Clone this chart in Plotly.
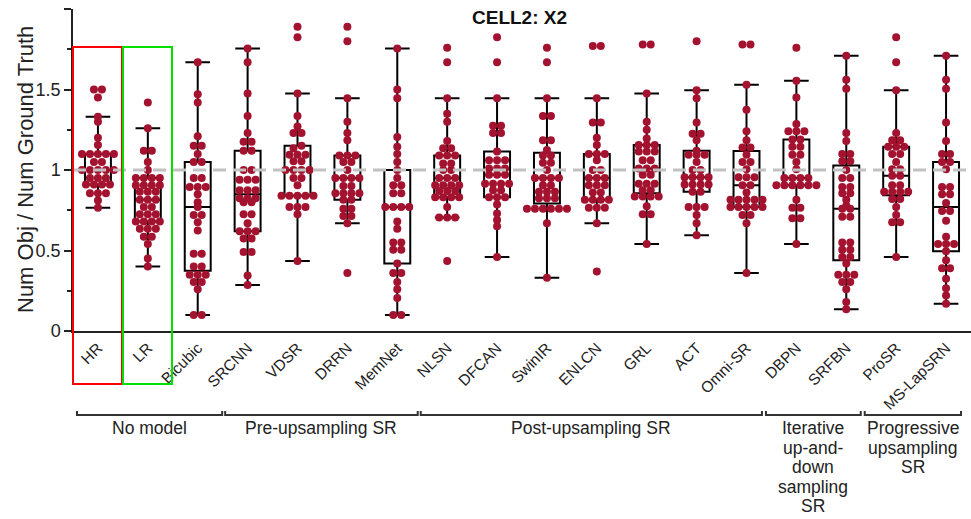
import plotly.graph_objects as go

categories = ["HR", "LR", "Bicubic", "SRCNN", "VDSR", "DRRN", "MemNet", "NLSN", "DFCAN",
              "SwinIR", "ENLCN", "GRL", "ACT", "Omni-SR", "DBPN", "SRFBN", "ProSR", "MS-LapSRN"]

def rep(v, n):
    return [v] * n

HR = [1.50, 1.50, 1.45, 1.33, 1.30, 1.20, 1.155] + rep(1.10, 5) + rep(1.05, 2) + rep(1.0, 5) + \
     rep(0.95, 3) + rep(0.91, 4) + rep(0.855, 3) + [0.81, 0.765]
LR = [1.42, 1.26, 1.12, 1.12, 1.05, 1.0] + rep(0.95, 4) + rep(0.905, 4) + rep(0.865, 3) + rep(0.815, 3) + \
     rep(0.77, 2) + rep(0.725, 3) + rep(0.68, 4) + rep(0.635, 3) + rep(0.585, 2) + [0.54, 0.45, 0.40]
Bicubic = [1.67, 1.47, 1.42, 1.21, 1.15, 1.15, 1.10, 1.05, 1.05, 0.95, 0.95] + rep(0.895, 3) + \
          [0.85, 0.80, 0.77, 0.72, 0.72, 0.675, 0.625, 0.48, 0.48, 0.40, 0.40] + rep(0.35, 3) + \
          [0.305, 0.305, 0.26, 0.10, 0.10]
SRCNN = [1.755, 1.67, 1.475, 1.335, 1.23, 1.175, 1.175, 1.12, 1.12, 1.0, 1.0] + rep(0.94, 3) + \
        rep(0.875, 3) + rep(0.825, 3) + [0.80, 0.80, 0.725, 0.725, 0.67] + rep(0.62, 3) + \
        [0.575, 0.575, 0.49, 0.49, 0.345, 0.285]
VDSR = [1.89, 1.825, 1.475, 1.335, 1.27, 1.23, 1.23, 1.15, 1.135] + rep(1.095, 3) + [1.055, 1.055] + \
       rep(1.0, 4) + [0.95, 0.95, 0.905] + rep(0.84, 5) + rep(0.77, 3) + [0.725, 0.435]
DRRN = [1.89, 1.80, 1.445, 1.30, 1.23, 1.185] + rep(1.09, 3) + [1.05, 1.05, 1.0] + rep(0.95, 4) + \
       [0.90, 0.90] + rep(0.855, 4) + [0.815, 0.815, 0.76, 0.76, 0.715, 0.715, 0.67, 0.36]
MemNet = [1.755, 1.50, 1.445, 1.205, 1.145, 1.10, 1.05, 1.0, 0.95, 0.905, 0.905, 0.855, 0.855] + \
         rep(0.77, 4) + [0.68, 0.635, 0.55, 0.55, 0.505, 0.505, 0.42, 0.36, 0.36, 0.305, 0.26, 0.205, 0.10, 0.10]
NLSN = [1.76, 1.67, 1.445, 1.35, 1.30, 1.18, 1.135, 1.135] + rep(1.09, 3) + [1.04, 1.04, 1.0, 1.0] + \
       rep(0.95, 3) + rep(0.905, 4) + rep(0.87, 3) + rep(0.83, 4) + [0.77] + rep(0.705, 3) + [0.435]
DFCAN = [1.825, 1.67, 1.445, 1.275, 1.275, 1.23, 1.23, 1.115] + rep(1.06, 3) + rep(1.01, 3) + \
        rep(0.97, 3) + rep(0.915, 4) + [0.875, 0.875] + rep(0.83, 3) + [0.785, 0.73, 0.69, 0.65, 0.46]
SwinIR = [1.76, 1.67, 1.445, 1.335, 1.335, 1.185, 1.185, 1.125, 1.09, 1.09, 1.045, 1.045, 1.0] + \
         rep(0.95, 4) + rep(0.905, 2) + rep(0.865, 3) + rep(0.825, 3) + rep(0.76, 6) + [0.67, 0.33]
ENLCN = [1.77, 1.77, 1.445, 1.295, 1.295, 1.20, 1.155] + rep(1.10, 3) + [1.06, 1.0, 1.0] + \
        rep(0.95, 3) + rep(0.905, 3) + [0.86, 0.86] + rep(0.815, 4) + rep(0.765, 3) + [0.67, 0.37]
GRL = [1.78, 1.78, 1.475, 1.30, 1.25, 1.195] + rep(1.155, 3) + rep(1.115, 3) + [1.06, 1.06] + \
      rep(1.01, 3) + [0.97, 0.97] + rep(0.915, 3) + rep(0.875, 2) + rep(0.835, 4) + [0.775, 0.725, 0.725, 0.54]
ACT = [1.80, 1.495, 1.445, 1.295, 1.225, 1.225, 1.185, 1.12] + rep(1.095, 3) + [1.05, 1.0, 1.0] + \
      rep(0.955, 4) + rep(0.91, 4) + [0.865, 0.865] + rep(0.77, 3) + [0.72, 0.67, 0.595]
OmniSR = [1.78, 1.78, 1.53, 1.375, 1.24, 1.185, 1.14, 1.14, 1.095, 1.05, 1.05, 1.005] + rep(0.955, 3) + \
         [0.905, 0.905, 0.86] + rep(0.815, 5) + rep(0.77, 5) + [0.72, 0.72, 0.67, 0.36]
DBPN = [1.76, 1.555, 1.45, 1.285] + rep(1.24, 3) + [1.19, 1.19, 1.145, 1.145, 1.095, 1.095, 1.05, 1.005] + \
       rep(0.95, 4) + rep(0.905, 6) + [0.815, 0.765, 0.765, 0.70, 0.70, 0.54]
SRFBN = [1.71, 1.56, 1.505, 1.23, 1.18, 1.10, 1.10, 1.055, 1.055, 1.0, 0.95, 0.95, 0.895, 0.895,
         0.855, 0.855, 0.815, 0.78, 0.76, 0.76, 0.71, 0.71, 0.55, 0.55, 0.505, 0.505, 0.46, 0.46, 0.42] + \
        rep(0.35, 3) + [0.305, 0.305, 0.26, 0.18, 0.135]
ProSR = [1.825, 1.67, 1.495, 1.23, 1.185, 1.185] + rep(1.145, 3) + [1.10, 1.10, 1.05, 1.005, 1.005,
         0.965, 0.965, 0.905, 0.905] + rep(0.865, 4) + [0.82, 0.82, 0.77, 0.72, 0.675, 0.675, 0.46]
MSLapSRN = [1.71, 1.56, 1.505, 1.295, 1.18, 1.10, 1.10, 1.05, 1.05, 1.005, 0.895, 0.895, 0.85, 0.85,
            0.795, 0.745, 0.745, 0.685, 0.585] + rep(0.54, 3) + \
           [0.495, 0.44, 0.39, 0.39, 0.325, 0.265, 0.22, 0.17]

series = [HR, LR, Bicubic, SRCNN, VDSR, DRRN, MemNet, NLSN, DFCAN, SwinIR, ENLCN, GRL,
          ACT, OmniSR, DBPN, SRFBN, ProSR, MSLapSRN]

groups = ["No model", "Pre-upsampling SR", "Post-upsampling SR",
          "Iterative<br>up-and-<br>down<br>sampling<br>SR", "Progressive<br>upsampling<br>SR"]
group_spans = [(-0.42, 2.49), (2.55, 6.41), (6.47, 13.31), (13.39, 15.29), (15.37, 17.3)]

FONT = "Liberation Sans, Arial, sans-serif"
DOT = "#A3122F"

# beeswarm layout: equal-valued points in a row, centred
dx = 8.0 / 49.9
bx, by = [], []
px, py = [], []
for i, vals in enumerate(series):
    for v in vals:
        bx.append(i)
        by.append(v)
    sv = sorted(vals)
    rows = []
    for v in sv:
        if rows and abs(v - rows[-1][0]) < 0.02:
            rows[-1].append(v)
        else:
            rows.append([v])
    for r in rows:
        n = len(r)
        for k, v in enumerate(r):
            px.append(i + (k - (n - 1) / 2) * dx)
            py.append(v)

fig = go.Figure()
fig.add_trace(go.Box(
    x=bx, y=by, width=0.52, whiskerwidth=0.95,
    line=dict(color="black", width=2), fillcolor="rgba(0,0,0,0)",
    boxpoints="outliers", marker=dict(opacity=0, size=1),
    quartilemethod="exclusive", showlegend=False, hoverinfo="skip"))
fig.add_trace(go.Scatter(
    x=px, y=py, mode="markers", marker=dict(color=DOT, size=8, line=dict(width=0)),
    showlegend=False, cliponaxis=False))

L, T, W, H = 73, 9, 898, 322
def pxp(x):
    return (x - L) / W
def pyp(y):
    return (T + H - y) / H

shapes = [
    dict(type="line", xref="paper", yref="y", x0=0, x1=1, y0=1, y1=1,
         line=dict(color="#C2C2C2", width=3, dash="13px,7px"), layer="above"),
    dict(type="rect", xref="paper", yref="paper", x0=pxp(73), x1=pxp(122), y0=pyp(384), y1=pyp(47),
         line=dict(color="#FF0000", width=2)),
    dict(type="rect", xref="paper", yref="paper", x0=pxp(123), x1=pxp(172), y0=pyp(384), y1=pyp(47),
         line=dict(color="#00E000", width=2)),
]
annotations = []
yb, yh = pyp(415), pyp(411)
for name, (a, b) in zip(groups, group_spans):
    xa, xb = (a + 0.5) / 18, (b + 0.5) / 18
    shapes.append(dict(type="path", xref="paper", yref="paper",
                       path=f"M {xa},{yh} L {xa},{yb} L {xb},{yb} L {xb},{yh}",
                       line=dict(color="#333333", width=2)))
    for j, line in enumerate(name.split("<br>")):
        annotations.append(dict(text=line, xref="paper", yref="paper", x=(xa + xb) / 2,
                                y=pyp(428 + 19.5 * j), xanchor="center", yanchor="middle",
                                showarrow=False, align="center",
                                font=dict(family=FONT, size=17.5, color="#222222")))

annotations.append(dict(text="<b>CELL2: X2</b>", xref="paper", yref="paper", x=pxp(519), y=pyp(17),
                        xanchor="center", yanchor="middle", showarrow=False,
                        font=dict(family=FONT, size=19, color="#111111")))
annotations.append(dict(text="Num Obj / Num Ground Truth", xref="paper", yref="paper",
                        x=pxp(25), y=pyp(170), textangle=-90, xanchor="center", yanchor="middle",
                        showarrow=False, font=dict(family=FONT, size=22, color="#222222")))

fig.update_layout(
    width=971, height=519, margin=dict(l=L, r=0, t=T, b=519 - T - H, autoexpand=False),
    paper_bgcolor="white", plot_bgcolor="white", font=dict(family=FONT),
    shapes=shapes, annotations=annotations, showlegend=False,
    xaxis=dict(range=[-0.5, 17.5], tickvals=list(range(18)), ticktext=categories, tickangle=-45,
               showgrid=False, zeroline=False, showline=True, linecolor="#222222", linewidth=2,
               ticks="", tickfont=dict(family=FONT, size=15.5, color="#222222")),
    yaxis=dict(range=[0, 2], tickvals=[0, 0.5, 1, 1.5, 2], ticktext=["0", "0.5", "1", "1.5", "2"],
               showgrid=False, zeroline=False, showline=True, linecolor="#222222", linewidth=1.5,
               ticks="outside", ticklen=7, tickwidth=1.5, tickcolor="#222222",
               minor=dict(tickvals=[0.25, 0.75, 1.25, 1.75], ticks="outside", ticklen=4,
                          tickwidth=1.5, tickcolor="#222222"),
               tickfont=dict(family=FONT, size=18, color="#222222")),
)
fig.write_html("out.html", config={"displayModeBar": False},
               post_script="document.body.style.margin='0';document.body.style.overflow='hidden';")
